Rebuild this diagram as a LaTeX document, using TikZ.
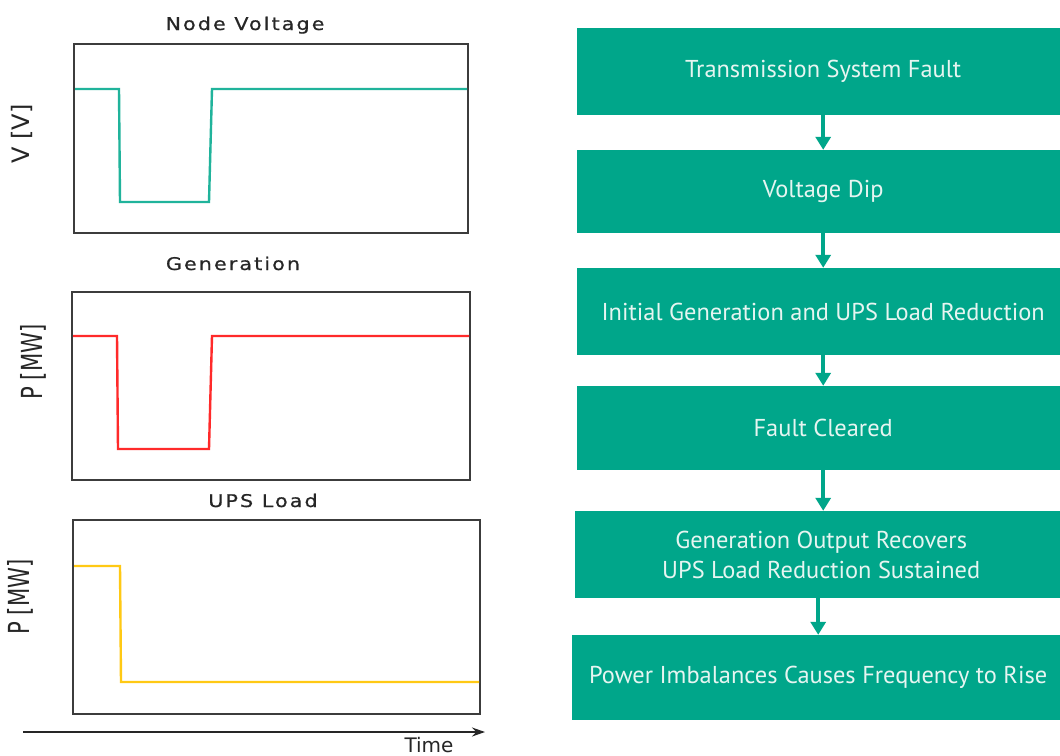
\documentclass[tikz,border=0pt]{standalone}
\usepackage{fontspec}
\usetikzlibrary{arrows.meta}
\newfontfamily\flowfont{PT Sans}
\newfontfamily\titlefont[LetterSpace=12,FakeStretch=1.18,FakeBold=0.6]{DejaVu Sans}
\newfontfamily\labelfont{DejaVu Sans}
\definecolor{flowteal}{HTML}{00A68A}
\definecolor{flowtext}{HTML}{E6F5F1}
\definecolor{frame}{HTML}{3C3C3C}
\definecolor{vtrace}{HTML}{20B39B}
\definecolor{gtrace}{HTML}{FF2A2A}
\definecolor{utrace}{HTML}{FFC914}
\tikzset{
  stepbox/.style={fill=flowteal, draw=none, anchor=west, minimum width=492pt,
    align=center, text=flowtext, font=\flowfont\fontsize{24.4}{30}\selectfont,
    inner sep=0pt},
  flowarrow/.style={draw=flowteal, line width=3.5pt,
    -{Triangle[width=15pt,length=13pt]}},
  plotframe/.style={draw=frame, line width=1.8pt},
  trace/.style={line width=2.4pt, line join=miter},
  plottitle/.style={anchor=base, font=\titlefont\fontsize{17.5}{20}\selectfont, text=black!85},
  axislabel/.style={rotate=90, font=\labelfont, text=black!85, inner sep=0pt}
}
\begin{document}
\begin{tikzpicture}[x=1pt,y=-1pt]
\useasboundingbox (0,0) rectangle (1060,755);
\clip (0,0) rectangle (1060,755);
\fill[white] (0,0) rectangle (1060,755);

% ---- left: three time plots ----
\node[plottitle] (t1) at (245,30) {Node Voltage};
\draw[plotframe] (74,44) rectangle (468,233);
\draw[trace, vtrace] (75,89) -- (119,89) -- (120,202) -- (209,202) -- (212,89) -- (467,89);
\node[axislabel] (y1) at (22,134) {\fontsize{24}{28}\selectfont V [V]};

\node[plottitle] (t2) at (233,270) {Generation};
\draw[plotframe] (72,292) rectangle (470,480);
\draw[trace, gtrace] (73,336) -- (117,336) -- (118,449) -- (209,449) -- (212,336) -- (469,336);
\node[axislabel] (y2) at (33,362) {\scalebox{0.73}[1]{\fontsize{29}{32}\selectfont P [MW]}};

\node[plottitle] (t3) at (263,507) {UPS Load};
\draw[plotframe] (73,520) rectangle (480,714);
\draw[trace, utrace] (74,566) -- (120,566) -- (121,682) -- (479,682);
\node[axislabel] (y3) at (20,597) {\scalebox{0.73}[1]{\fontsize{29}{32}\selectfont P [MW]}};

% time axis
\coordinate (ts) at (23,732);
\coordinate (te) at (485,732);
\draw[line width=1.8pt, black!85, -{Stealth[width=9pt,length=13pt]}] (ts) -- (te);
\node[anchor=base, font=\labelfont\fontsize{20}{24}\selectfont, text=black!85, inner sep=0pt] (time) at (429,752) {Time};

% ---- right: event sequence ----
\node[stepbox, minimum height=87pt] (b1) at (577,71.5) {Transmission System Fault};
\node[stepbox, minimum height=83pt] (b2) at (577,191.5) {Voltage Dip};
\node[stepbox, minimum height=87pt] (b3) at (577,311.5) {Initial Generation and UPS Load Reduction};
\node[stepbox, minimum height=84pt] (b4) at (577,428) {Fault Cleared};
\node[stepbox, minimum height=87pt] (b5) at (575,554.5) {Generation Output Recovers\\UPS Load Reduction Sustained};
\node[stepbox, minimum height=85pt] (b6) at (572,677.5) {Power Imbalances Causes Frequency to Rise};

\draw[flowarrow] (b1.south) -- (b2.north);
\draw[flowarrow] (b2.south) -- (b3.north);
\draw[flowarrow] (b3.south) -- (b4.north);
\draw[flowarrow] (b4.south) -- (b4.south |- b5.north);
\draw[flowarrow] (b6.north |- b5.south) -- (b6.north);
\end{tikzpicture}
\end{document}
